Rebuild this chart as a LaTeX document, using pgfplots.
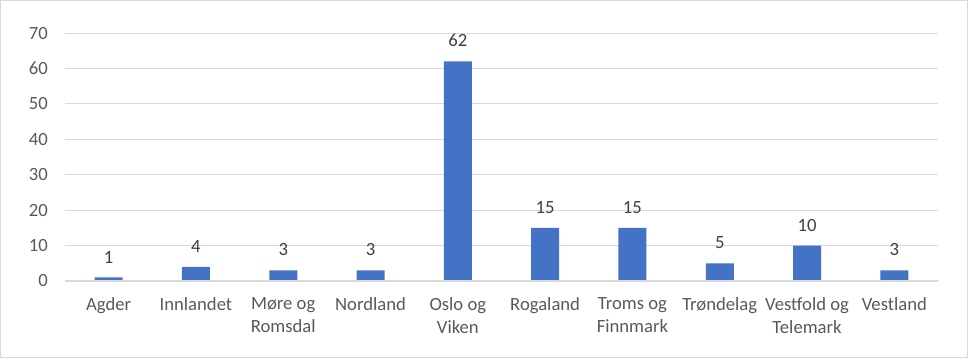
\documentclass[border=0pt]{standalone}
\usepackage{fontspec}
\setmainfont{Carlito}
\usepackage{pgfplots}
\pgfplotsset{compat=1.18}
\definecolor{barblue}{HTML}{4472C4}
\definecolor{gridgray}{HTML}{D9D9D9}
\definecolor{ticktext}{HTML}{595959}
\definecolor{labeltext}{HTML}{404040}
\begin{document}
\begin{tikzpicture}
\useasboundingbox (0,0) rectangle (726pt,268.5pt);
\draw[gridgray, line width=0.9pt] (0.45pt,0.45pt) rectangle (725.55pt,268.05pt);
\begin{axis}[
  at={(48.75pt,57.75pt)}, anchor=south west,
  scale only axis,
  width=654.75pt, height=186pt,
  ymin=0, ymax=70, ytick={0,10,...,70},
  xmin=-0.5, xmax=9.5,
  xtick={0,...,9},
  xticklabels={Agder,Innlandet,{Møre og\\Romsdal},Nordland,{Oslo og\\Viken},Rogaland,{Troms og\\Finnmark},Trøndelag,{Vestfold og\\Telemark},Vestland},
  major tick length=0pt,
  axis line style={draw=none},
  axis x line*=bottom,
  ymajorgrids, grid style={gridgray, line width=0.75pt},
  /pgf/number format/assume math mode=true,
  yticklabel style={font=\fontsize{14}{16.8}\selectfont, color=ticktext, inner sep=0pt, xshift=-12.75pt},
  xticklabel style={font=\fontsize{14}{17.25}\selectfont, color=ticktext, inner sep=0pt, align=center, anchor=north, yshift=-12.5pt},
  ybar, bar width=21pt,
  nodes near coords,
  every node near coord/.append style={font=\fontsize{14}{16.8}\selectfont, color=labeltext, anchor=south, inner sep=0pt, yshift=10.5pt},
  clip=false,
]
\addplot[fill=barblue, draw=none] coordinates {(0,1) (1,4) (2,3) (3,3) (4,62) (5,15) (6,15) (7,5) (8,10) (9,3)};
\draw[gridgray, line width=0.9pt] (axis cs:-0.5,0) -- (axis cs:9.5,0);
\end{axis}
\end{tikzpicture}
\end{document}
